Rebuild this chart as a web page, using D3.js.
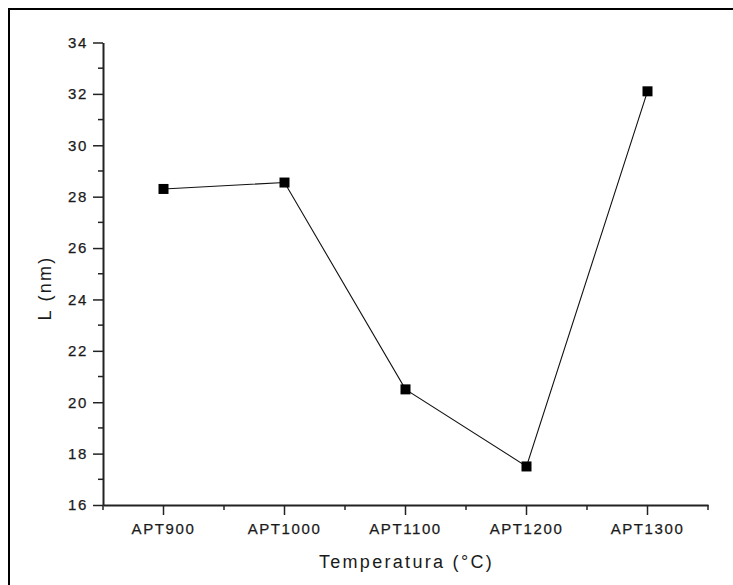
<!DOCTYPE html>
<html>
<head>
<meta charset="utf-8">
<script src="https://cdn.jsdelivr.net/npm/d3@7"></script>
<style>
  html, body { margin: 0; padding: 0; background: #fff; }
  svg { display: block; }
  text { font-family: "Liberation Sans", Arial, sans-serif; fill: #1a1a1a; }
</style>
</head>
<body>
<svg id="chart" width="733" height="585"></svg>
<script>
// Samples and measured crystallite size L (nm)
const categories = ["APT900", "APT1000", "APT1100", "APT1200", "APT1300"];
const sizeValues = [28.3, 28.55, 20.5, 17.5, 32.1];
const yTicks = [16, 18, 20, 22, 24, 26, 28, 30, 32, 34];
const yMinorTicks = [17, 19, 21, 23, 25, 27, 29, 31, 33];

const svg = d3.select("#chart");

// Outer frame
svg.append("rect")
  .attr("x", 9).attr("y", 9)
  .attr("width", 740).attr("height", 600)
  .attr("fill", "none").attr("stroke", "#000").attr("stroke-width", 2);

const plotLeft = 103, plotRight = 708, plotTop = 42.5, plotBottom = 505;

const x = d3.scaleBand().domain(categories).range([plotLeft, plotRight]).padding(0);
const y = d3.scaleLinear().domain([16, 34]).range([plotBottom, plotTop]);

// Y axis
const yAxis = svg.append("g").attr("transform", `translate(${plotLeft},0)`);
yAxis.call(d3.axisLeft(y).tickValues(yTicks).tickSize(10).tickPadding(5).tickSizeOuter(0));
yAxis.append("g").selectAll("line").data(yMinorTicks).join("line")
  .attr("x1", -5).attr("x2", 0)
  .attr("y1", d => y(d)).attr("y2", d => y(d))
  .attr("stroke", "#222").attr("stroke-width", 1.5);

// X axis with category ticks at band centres and minor ticks at band edges
const xAxis = svg.append("g").attr("transform", `translate(0,${plotBottom})`);
xAxis.call(d3.axisBottom(x).tickSize(10).tickPadding(8).tickSizeOuter(0));
const edges = [plotLeft].concat(categories.map(c => x(c) + x.bandwidth()));
xAxis.append("g").selectAll("line").data(edges).join("line")
  .attr("x1", d => d).attr("x2", d => d)
  .attr("y1", 0).attr("y2", 5)
  .attr("stroke", "#222").attr("stroke-width", 1.5);

svg.selectAll(".domain").attr("stroke", "#222").attr("stroke-width", 2);
svg.selectAll(".tick line").attr("stroke", "#222").attr("stroke-width", 1.5);
svg.selectAll(".tick text")
  .attr("font-size", 15)
  .attr("font-family", "'Liberation Sans', Arial, sans-serif")
  .attr("fill", "#1a1a1a")
  .attr("stroke", "#1a1a1a").attr("stroke-width", 0.25)
  .style("letter-spacing", "1.6px");

// Axis titles
svg.append("text")
  .attr("transform", `translate(51,288) rotate(-90)`)
  .attr("text-anchor", "middle")
  .attr("font-size", 18)
  .style("letter-spacing", "2.3px")
  .text("L (nm)");

svg.append("text")
  .attr("x", 406.5).attr("y", 568)
  .attr("text-anchor", "middle")
  .attr("font-size", 18)
  .style("letter-spacing", "2.3px")
  .text("Temperatura (°C)");

// Data line and square markers
const pts = categories.map((c, i) => [x(c) + x.bandwidth() / 2, y(sizeValues[i])]);
svg.append("path")
  .attr("d", d3.line()(pts))
  .attr("fill", "none").attr("stroke", "#111").attr("stroke-width", 1.1);

svg.selectAll(".marker").data(pts).join("rect")
  .attr("class", "marker")
  .attr("x", d => d[0] - 5).attr("y", d => d[1] - 5)
  .attr("width", 10).attr("height", 10)
  .attr("fill", "#000");
</script>
</body>
</html>
